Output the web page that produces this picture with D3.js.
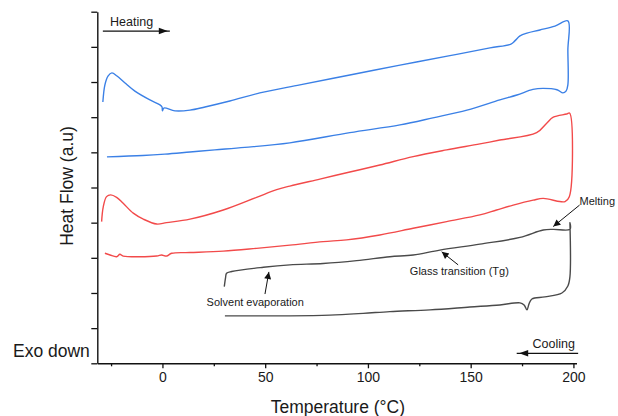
<!DOCTYPE html>
<html>
<head>
<meta charset="utf-8">
<script src="https://cdn.jsdelivr.net/npm/d3@7"></script>
<style>
  html, body { margin: 0; padding: 0; background: #fff; }
  svg { display: block; font-family: "Liberation Sans", Arial, sans-serif; }
</style>
</head>
<body>
<svg id="chart" width="618" height="416"></svg>
<script>
// ---- Data (temperature °C, heat flow a.u.) ----
// Blue sample: heating (top) then cooling (bottom)
const blueTemp = [-29.0,-28.0,-26.5,-24.6,-22.1,-18.2,-13.4,-6.1,-1.2,-0.2,0.0,0.7,6.1,13.4,20.7,32.8,47.4,66.9,91.2,115.6,139.9,159.4,169.6,171.5,174.0,177.4,183.7,191.0,197.3,197.3,197.3,196.4,194.9,192.0,185.2,180.3,172.5,164.2,148.2,131.6,115.6,91.2,62.0,40.1,25.5,13.4,1.2,-9.5,-27.0];
const blueHF   = [7.43,7.92,8.17,8.26,8.17,7.97,7.74,7.49,7.35,7.29,7.18,7.26,7.18,7.20,7.29,7.46,7.69,7.92,8.20,8.48,8.75,8.97,9.08,9.17,9.31,9.39,9.48,9.59,9.74,8.91,7.92,7.74,7.69,7.78,7.82,7.79,7.63,7.49,7.20,6.98,6.78,6.56,6.27,6.14,6.07,6.01,5.95,5.91,5.87];

// Red sample: heating (top) then cooling (bottom)
const redTemp = [-29.6,-28.8,-27.2,-25.2,-22.3,-19.1,-14.2,-9.3,-2.8,2.0,13.4,29.6,45.8,55.6,62.0,76.6,91.2,105.8,122.0,138.3,154.5,164.2,182.1,187.0,190.2,196.7,198.1,198.0,195.9,193.4,185.3,180.4,170.7,162.6,154.5,138.3,122.0,105.8,89.6,78.2,62.0,45.8,29.6,13.4,4.5,2.0,-0.4,-2.8,-19.1,-20.7,-22.3,-25.5,-28.0];
const redHF   = [4.03,4.45,4.74,4.79,4.72,4.55,4.27,4.10,3.96,4.00,4.10,4.36,4.72,4.94,5.04,5.24,5.44,5.64,5.88,6.07,6.24,6.35,6.56,6.83,7.00,7.09,7.12,4.74,4.60,4.60,4.69,4.64,4.50,4.36,4.22,4.03,3.84,3.65,3.51,3.46,3.36,3.27,3.19,3.15,3.13,3.05,3.08,3.05,3.05,3.10,3.03,3.08,3.13];

// Black sample: heating (top) then cooling (bottom)
const blackTemp = [30.1,30.7,31.2,33.7,49.1,62.0,78.2,94.5,110.7,122.0,135.0,154.5,174.0,185.3,190.2,198.3,198.3,198.3,197.3,194.4,186.1,179.8,178.4,177.4,176.0,174.0,164.2,149.6,130.2,110.7,97.7,81.5,62.0,30.4];
const blackHF   = [2.18,2.43,2.56,2.61,2.73,2.80,2.84,2.92,3.03,3.08,3.22,3.39,3.58,3.79,3.81,3.81,4.00,2.46,2.20,2.00,1.89,1.83,1.69,1.52,1.66,1.72,1.66,1.60,1.52,1.47,1.42,1.37,1.35,1.35];

// Axis ticks
const xMajorTicks = [0, 50, 100, 150, 200];
const xMinorTicks = [-25, 25, 75, 125, 175];
const yTicks = [0,1,2,3,4,5,6,7,8,9,10];

// Annotations (data coordinates)
const annotations = [
  { text: "Solvent evaporation", tx: 21.5, ty: 1.64, from: [49.9, 1.97], to: [51.8, 2.60] },
  { text: "Glass transition (Tg)", tx: 120.4, ty: 2.50, from: [143.9, 2.80], to: [135.9, 3.17] },
  { text: "Melting", tx: 203.0, ty: 4.49, from: [203.0, 4.50], to: [190.2, 3.89] }
];
const directionLabels = [
  { text: "Heating", tx: -25.5, ty: 9.59, from: [-29.0, 9.45], to: [3.6, 9.45], head: 2.6 },
  { text: "Cooling", tx: 180.1, ty: 0.435, from: [202.3, 0.284], to: [172.4, 0.284], head: 173.6 }
];

// ---- Chart ----
const svg = d3.select("#chart");
const x = d3.scaleLinear().domain([-31.7, 201.5]).range([97.3, 576.5]);
const y = d3.scaleLinear().domain([0, 10]).range([363.3, 11.7]);

const defs = svg.append("defs");
defs.append("marker")
  .attr("id", "ah")
  .attr("viewBox", "0 0 10 10")
  .attr("refX", 10).attr("refY", 5)
  .attr("markerWidth", 9).attr("markerHeight", 7)
  .attr("markerUnits", "userSpaceOnUse")
  .attr("orient", "auto")
  .append("path").attr("d", "M0,0 L10,5 L0,10 Z").attr("fill", "#111");

// curves
const line = d3.line().x(d => x(d[0])).y(d => y(d[1])).curve(d3.curveCatmullRom.alpha(0.5));
const series = [
  { t: blueTemp, v: blueHF, color: "#3b80e6" },
  { t: redTemp, v: redHF, color: "#f24a4a" },
  { t: blackTemp, v: blackHF, color: "#4a4a4a" }
];
series.forEach(s => {
  svg.append("path")
    .datum(s.t.map((t, i) => [t, s.v[i]]))
    .attr("d", line)
    .attr("fill", "none")
    .attr("stroke", s.color)
    .attr("stroke-width", 1.4)
    .attr("stroke-linejoin", "round");
});

// axes
const xAxis = svg.append("g").attr("transform", `translate(0,${y(0)})`)
  .call(d3.axisBottom(x).tickValues(xMajorTicks).tickSize(5).tickSizeOuter(0).tickPadding(4));
const xMinor = svg.append("g").attr("transform", `translate(0,${y(0)})`)
  .call(d3.axisBottom(x).tickValues(xMinorTicks).tickSize(3).tickSizeOuter(0).tickFormat(""));
xMinor.select(".domain").remove();
const yAxis = svg.append("g").attr("transform", `translate(${x(-31.7)},0)`)
  .call(d3.axisLeft(y).tickValues(yTicks).tickSize(6).tickSizeOuter(0).tickFormat(""));

[xAxis, xMinor, yAxis].forEach(g => {
  g.selectAll("path.domain").attr("stroke", "#111").attr("stroke-width", 1.4);
  g.selectAll(".tick line").attr("stroke", "#111").attr("stroke-width", 1.3);
});
xAxis.selectAll(".tick text")
  .attr("font-size", 14).attr("fill", "#1a1a1a")
  .attr("font-family", "Liberation Sans, Arial, sans-serif");

// axis titles
svg.append("text")
  .attr("x", (x(-31.7) + x(201.5)) / 2 + 1).attr("y", 413)
  .attr("text-anchor", "middle").attr("font-size", 17.5).attr("fill", "#1a1a1a")
  .text("Temperature (°C)");
svg.append("text")
  .attr("transform", "translate(73,186) rotate(-90)")
  .attr("text-anchor", "middle").attr("font-size", 17.5).attr("fill", "#1a1a1a")
  .text("Heat Flow (a.u)");
svg.append("text")
  .attr("x", 13).attr("y", 357)
  .attr("font-size", 17.5).attr("fill", "#1a1a1a")
  .text("Exo down");

// annotations
annotations.forEach(a => {
  svg.append("text")
    .attr("x", x(a.tx)).attr("y", y(a.ty))
    .attr("font-size", 11).attr("fill", "#1a1a1a")
    .text(a.text);
  svg.append("line")
    .attr("x1", x(a.from[0])).attr("y1", y(a.from[1]))
    .attr("x2", x(a.to[0])).attr("y2", y(a.to[1]))
    .attr("stroke", "#111").attr("stroke-width", 1)
    .attr("marker-end", "url(#ah)");
});

directionLabels.forEach(d => {
  svg.append("text")
    .attr("x", x(d.tx)).attr("y", y(d.ty))
    .attr("font-size", 12.5).attr("fill", "#1a1a1a")
    .text(d.text);
  svg.append("line")
    .attr("x1", x(d.from[0])).attr("y1", y(d.from[1]))
    .attr("x2", x(d.to[0])).attr("y2", y(d.to[1]))
    .attr("stroke", "#111").attr("stroke-width", 1.2);
  const dir = Math.sign(d.to[0] - d.from[0]);
  const tipX = x(d.head), yy = y(d.from[1]);
  svg.append("path")
    .attr("d", `M${tipX},${yy} L${tipX - dir * 9},${yy - 3.2} L${tipX - dir * 9},${yy + 3.2} Z`)
    .attr("fill", "#111");
});
</script>
</body>
</html>
